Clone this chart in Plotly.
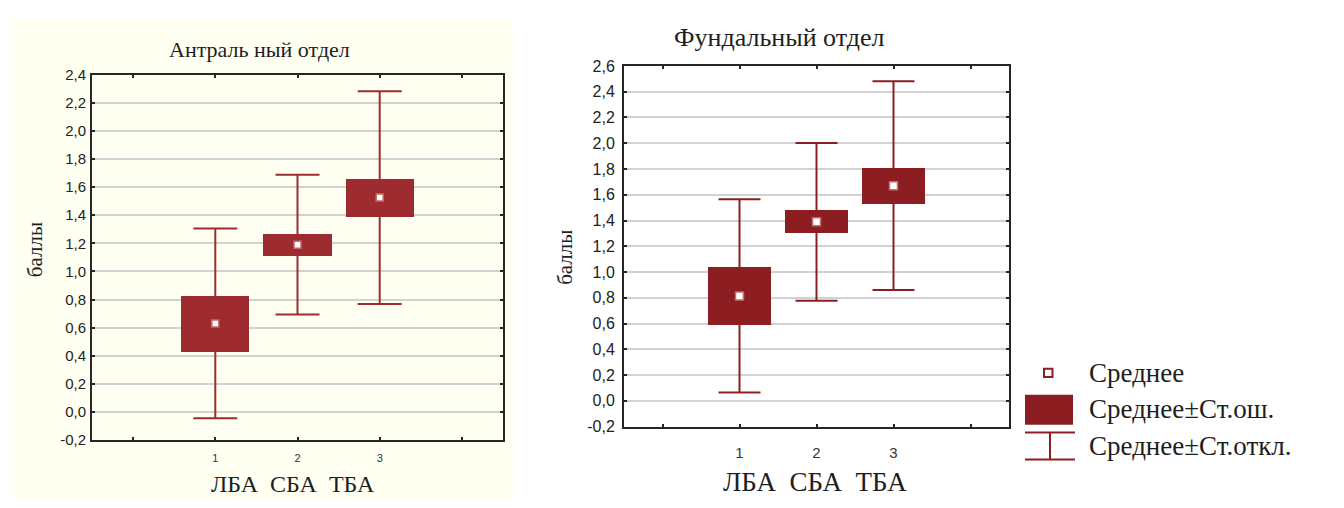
import plotly.graph_objects as go

W, H = 1344, 508

# --- data -----------------------------------------------------------------
groups = ["ЛБА", "СБА", "ТБА"]
positions = [1, 2, 3]
x_tick_vals = [0, 1, 2, 3, 4]
x_tick_text = ["", "1", "2", "3", ""]

antral_mean = [0.63, 1.19, 1.525]
antral_se = [0.20, 0.078, 0.135]
antral_sd = [0.675, 0.497, 0.756]

fundal_mean = [0.815, 1.39, 1.67]
fundal_se = [0.225, 0.089, 0.14]
fundal_sd = [0.75, 0.612, 0.81]

antral_y_vals = [-0.2, 0.0, 0.2, 0.4, 0.6, 0.8, 1.0, 1.2, 1.4, 1.6, 1.8, 2.0, 2.2, 2.4]
antral_y_text = ["-0,2", "0,0", "0,2", "0,4", "0,6", "0,8", "1,0", "1,2",
                 "1,4", "1,6", "1,8", "2,0", "2,2", "2,4"]
fundal_y_vals = [-0.2, 0.0, 0.2, 0.4, 0.6, 0.8, 1.0, 1.2, 1.4, 1.6, 1.8, 2.0,
                 2.2, 2.4, 2.6]
fundal_y_text = ["-0,2", "0,0", "0,2", "0,4", "0,6", "0,8", "1,0", "1,2",
                 "1,4", "1,6", "1,8", "2,0", "2,2", "2,4", "2,6"]

legend_labels = ["Среднее", "Среднее±Ст.ош.", "Среднее±Ст.откл."]

# --- styling ----------------------------------------------------------------
SERIF = "Liberation Serif"
SANS = "Liberation Sans"
AXIS_COL = "#262626"
GRID_COL = "#D2D2D2"
LEFT_RED = "#9E2B2F"
RIGHT_RED = "#8C1E21"
IVORY = "#FFFFF2"


def px(x):
    return x / W


def py(y):
    return 1 - y / H


fig = go.Figure()


def add_panel(xa, ya, mean, se, sd, color, bar_w, cap_w, mean_size):
    lower = [m - s for m, s in zip(mean, se)]
    fig.add_trace(go.Bar(
        x=positions, y=[2 * s for s in se], base=lower, width=bar_w,
        marker=dict(color=color, line=dict(width=0)),
        xaxis=xa, yaxis=ya, showlegend=False, hoverinfo="skip"))
    fig.add_trace(go.Scatter(
        x=positions, y=mean, mode="markers",
        marker=dict(size=1, color="rgba(0,0,0,0)"),
        error_y=dict(type="data", array=sd, symmetric=True, color=color,
                     thickness=2, width=cap_w),
        xaxis=xa, yaxis=ya, showlegend=False, hoverinfo="skip"))
    fig.add_trace(go.Scatter(
        x=positions, y=mean, mode="markers",
        marker=dict(symbol="square", size=mean_size, color="white",
                    line=dict(color="#C76A6C", width=1.5)),
        xaxis=xa, yaxis=ya, showlegend=False, hoverinfo="skip"))


add_panel("x", "y", antral_mean, antral_se, antral_sd, LEFT_RED, 0.83, 22, 7)
add_panel("x2", "y2", fundal_mean, fundal_se, fundal_sd, RIGHT_RED, 0.82, 21, 8)

common_axis = dict(showline=True, linecolor=AXIS_COL, linewidth=2, mirror="ticks",
                   ticks="inside", ticklen=3, tickwidth=2, tickcolor=AXIS_COL,
                   zeroline=False)

fig.update_layout(
    width=W, height=H,
    margin=dict(l=0, r=0, t=0, b=0),
    paper_bgcolor="white",
    plot_bgcolor="rgba(0,0,0,0)",
    showlegend=False,
    bargap=0,
    xaxis=dict(domain=[px(92), px(503)], range=[-0.5, 4.5],
               tickvals=x_tick_vals, ticktext=x_tick_text, showgrid=False,
               tickfont=dict(family=SANS, size=11, color="#333333"),
               ticklabelstandoff=7, anchor="y", **common_axis),
    yaxis=dict(domain=[py(447), py(68)], range=[-0.2, 2.4],
               tickvals=antral_y_vals, ticktext=antral_y_text,
               showgrid=True, gridcolor=GRID_COL, gridwidth=2,
               tickfont=dict(family=SANS, size=15, color="#222222"),
               ticklabelstandoff=1, anchor="x", **common_axis),
    xaxis2=dict(domain=[px(624), px(1009)], range=[-0.5, 4.5],
                tickvals=x_tick_vals, ticktext=x_tick_text, showgrid=False,
                tickfont=dict(family=SANS, size=15, color="#333333"),
                ticklabelstandoff=11, anchor="y2", **common_axis),
    yaxis2=dict(domain=[py(433), py(59)], range=[-0.2, 2.6],
                tickvals=fundal_y_vals, ticktext=fundal_y_text,
                showgrid=True, gridcolor=GRID_COL, gridwidth=2,
                tickfont=dict(family=SANS, size=16, color="#222222"),
                ticklabelstandoff=4, anchor="x2", **common_axis),
)

shapes = [
    # ivory panel behind the left chart
    dict(type="rect", xref="paper", yref="paper", x0=px(9), x1=px(513),
         y0=py(508), y1=py(10), fillcolor=IVORY, line=dict(width=0), layer="below"),
    # legend: mean marker
    dict(type="rect", xref="paper", yref="paper", x0=px(1044), x1=px(1052.5),
         y0=py(381.5), y1=py(373), fillcolor="white",
         line=dict(color=RIGHT_RED, width=2)),
    # legend: ±SE box
    dict(type="rect", xref="paper", yref="paper", x0=px(1025), x1=px(1073),
         y0=py(431), y1=py(400), fillcolor=RIGHT_RED, line=dict(width=0)),
    # legend: ±SD whisker
    dict(type="line", xref="paper", yref="paper", x0=px(1025), x1=px(1075),
         y0=py(439), y1=py(439), line=dict(color=RIGHT_RED, width=2)),
    dict(type="line", xref="paper", yref="paper", x0=px(1025), x1=px(1075),
         y0=py(467), y1=py(467), line=dict(color=RIGHT_RED, width=2)),
    dict(type="line", xref="paper", yref="paper", x0=px(1050), x1=px(1050),
         y0=py(439), y1=py(467), line=dict(color=RIGHT_RED, width=2)),
]
fig.update_layout(shapes=shapes)


def text(x, y, s, size, angle=0, xanchor="center"):
    return dict(x=px(x), y=py(y), xref="paper", yref="paper", text=s,
                showarrow=False, xanchor=xanchor, yanchor="middle",
                textangle=angle, font=dict(family=SERIF, size=size, color="#1E1E1E"))


annotations = [
    text(259, 42, "Антраль ный отдел", 22),
    text(779, 30, "Фундальный отдел", 26),
    text(293, 492, "\u00a0\u00a0".join(groups), 24),
    text(815, 490, "\u00a0\u00a0".join(groups), 27),
    text(35, 250, "баллы", 21, angle=-90),
    text(565, 258, "баллы", 21, angle=-90),
    text(1087, 377, legend_labels[0], 27, xanchor="left"),
    text(1087, 415, legend_labels[1], 27, xanchor="left"),
    text(1087, 453, legend_labels[2], 27, xanchor="left"),
]
fig.update_layout(annotations=annotations)

fig.write_html("out.html")
